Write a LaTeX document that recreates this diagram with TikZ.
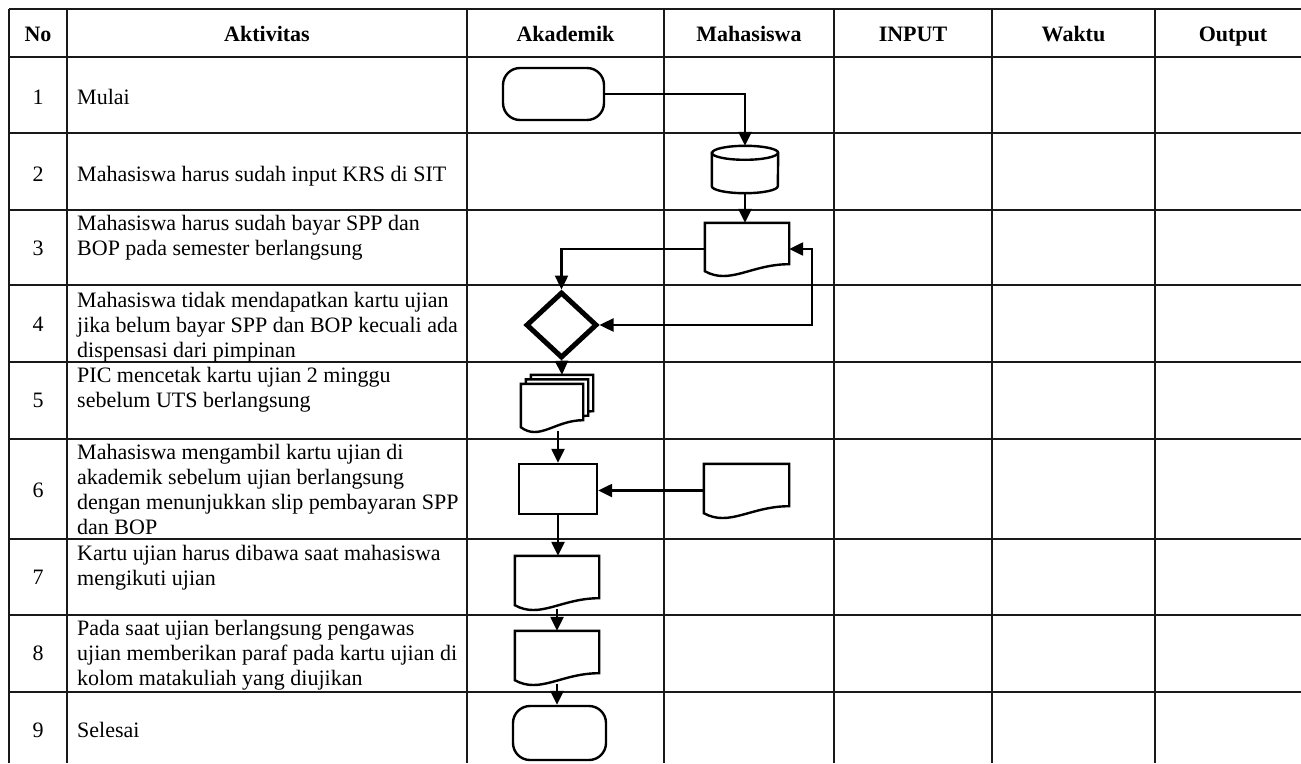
\documentclass[tikz,border=0pt]{standalone}
\usepackage{fontspec}
\setmainfont{Liberation Serif}
\usetikzlibrary{arrows.meta,shapes.geometric,calc}

\newcommand{\docshape}[2][]{%
  \draw [line width=2.4pt, #1] (#2.north west) -- (#2.north east) -- ([yshift=11pt]#2.south east)
    .. controls ($(#2.south west)!0.55!(#2.south east)+(0,11pt)$) and ($(#2.south west)!0.3!(#2.south east)+(0,-10pt)$)
    .. ([yshift=4pt]#2.south west) -- cycle;}

\begin{document}
\begin{tikzpicture}[x=1pt, y=-1pt, >={Triangle[length=14pt,width=13pt]},
    grid/.style={line width=1.9pt, black!90},
    head/.style={font=\fontsize{22}{25}\selectfont\bfseries, inner sep=0pt, anchor=base},
    num/.style={font=\fontsize{22}{25}\selectfont, inner sep=0pt, anchor=base},
    cell/.style={font=\fontsize{22}{25}\selectfont, inner sep=0pt, anchor=north west, align=left},
    term/.style={rectangle, draw, line width=2.4pt, rounded corners=17pt, inner sep=0pt},
    proc/.style={rectangle, draw, line width=2.4pt, inner sep=0pt},
    ghost/.style={rectangle, inner sep=0pt},
    decision/.style={diamond, draw, line width=5pt, inner sep=0pt, minimum width=71pt, minimum height=66pt},
    line/.style={draw, ->, line width=2.4pt}]

    \useasboundingbox (0,0) rectangle (1301,763);

    \foreach \y in {9,57,133,210,285,362,439,539,615,692}
        \draw [grid] (9,\y) -- (1301,\y);
    \foreach \x in {9,67,467,664,834,992,1155}
        \draw [grid] (\x,9) -- (\x,763);

    \node [head] (hno) at (38,41) {No};
    \node [head] (hakt) at (267,41) {Aktivitas};
    \node [head] (hakd) at (565.5,41) {Akademik};
    \node [head] (hmhs) at (749,41) {Mahasiswa};
    \node [head] (hin) at (913,41) {INPUT};
    \node [head] (hwkt) at (1073.5,41) {Waktu};
    \node [head] (hout) at (1233,41) {Output};

    \foreach \i/\y in {1/104, 2/181, 3/255, 4/331, 5/407, 6/497, 7/584, 8/660, 9/737}
        \node [num] (n\i) at (38,\y) {\i};

    \node [cell] (a1) at (77,89) {Mulai};
    \node [cell] (a2) at (77,166) {Mahasiswa harus sudah input KRS di SIT};
    \node [cell] (a3) at (77,215) {Mahasiswa harus sudah bayar SPP dan\\BOP pada semester berlangsung};
    \node [cell] (a4) at (77,292) {Mahasiswa tidak mendapatkan kartu ujian\\jika belum bayar SPP dan BOP kecuali ada\\dispensasi dari pimpinan};
    \node [cell] (a5) at (77,367) {PIC mencetak kartu ujian 2 minggu\\sebelum UTS berlangsung};
    \node [cell] (a6) at (77,444) {Mahasiswa mengambil kartu ujian di\\akademik sebelum ujian berlangsung\\dengan menunjukkan slip pembayaran SPP\\dan BOP};
    \node [cell] (a7) at (77,545) {Kartu ujian harus dibawa saat mahasiswa\\mengikuti ujian};
    \node [cell] (a8) at (77,620) {Pada saat ujian berlangsung pengawas\\ujian memberikan paraf pada kartu ujian di\\kolom matakuliah yang diujikan};
    \node [cell] (a9) at (77,722) {Selesai};

    \node [term, minimum width=101pt, minimum height=52pt] (start) at (553.5,94) {};
    \node [ghost, minimum width=66pt, minimum height=47pt] (db) at (745,169.5) {};
    \node [ghost, minimum width=84pt, minimum height=52pt] (bill) at (747,249) {};
    \node [decision] (pay) at (561.5,325) {};
    \node [ghost, minimum width=62pt, minimum height=47pt] (cards3) at (562,398.5) {};
    \node [ghost, minimum width=62pt, minimum height=47pt] (cards2) at (557,403) {};
    \node [ghost, minimum width=62pt, minimum height=47pt] (cards) at (552,407.5) {};
    \node [proc, minimum width=78pt, minimum height=50pt] (take) at (558,489) {};
    \node [ghost, minimum width=85pt, minimum height=53pt] (slip) at (746.5,490.5) {};
    \node [ghost, minimum width=84pt, minimum height=53pt] (card) at (557,582.5) {};
    \node [ghost, minimum width=84pt, minimum height=53pt] (sign) at (557,657.5) {};
    \node [term, minimum width=93pt, minimum height=54pt] (stop) at (559.5,733) {};

    \draw [line width=2.4pt] ([yshift=-7pt]db.north west) -- ([yshift=7pt]db.south west)
        arc [start angle=180, end angle=360, x radius=33pt, y radius=7pt]
        -- ([yshift=-7pt]db.north east)
        arc [start angle=0, end angle=180, x radius=33pt, y radius=7pt] -- cycle;
    \draw [line width=2.4pt] ([yshift=-7pt]db.north west)
        arc [start angle=180, end angle=360, x radius=33pt, y radius=7pt];
    \docshape{bill}
    \docshape[fill=white]{cards3}
    \docshape[fill=white]{cards2}
    \docshape[fill=white]{cards}
    \docshape{slip}
    \docshape{card}
    \docshape{sign}

    \path [line] (start) -| (db);
    \path [line] (db.south) -- (db.south |- bill.north);
    \path [line] (bill.west) -| (pay.north);
    \coordinate (back) at (812,0);
    \path [line, <->] (pay.east) -- (pay.east -| back) |- (bill.east);
    \path [line] (pay.south) -- (cards3.north);
    \path [line] (take.north |- cards.south) -- (take.north);
    \path [line] (slip.west) -- (slip.west -| take.east);
    \path [line] (take.south) -- (take.south |- card.north);
    \path [line] (card.south) -- (sign.north);
    \path [line] (sign.south) -- (sign.south |- stop.north);

\end{tikzpicture}
\end{document}
